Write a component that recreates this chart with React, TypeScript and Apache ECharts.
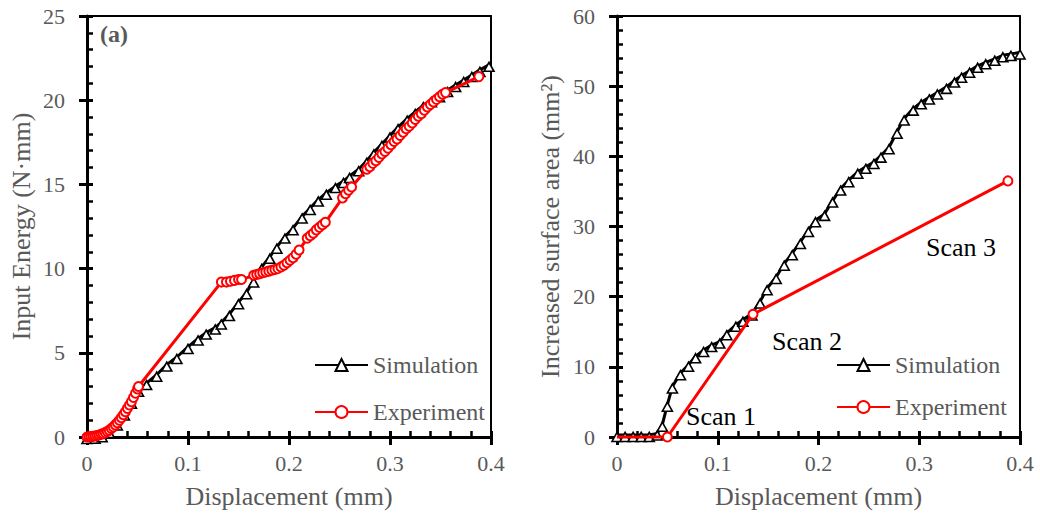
import React, { useEffect, useRef } from "react";
import * as echarts from "echarts";

const FONT = '"Liberation Serif", "Times New Roman", serif';
const GRAY = "#595959";

// ---- Data ----
const xTicks = [0, 0.1, 0.2, 0.3, 0.4];

const leftSimulation: [number, number][] = [
  [0, 0], [0.008, 0.02], [0.015, 0.1], [0.022, 0.35], [0.03, 0.8], [0.037, 1.4],
  [0.044, 2.1], [0.051, 2.8], [0.059, 3.2], [0.069, 3.7], [0.079, 4.3], [0.089, 4.75],
  [0.1, 5.35], [0.11, 5.85], [0.118, 6.2], [0.127, 6.5], [0.133, 6.8], [0.141, 7.3],
  [0.15, 8.0], [0.158, 8.6], [0.165, 9.3], [0.173, 10.1], [0.181, 10.7], [0.188, 11.3],
  [0.196, 11.9], [0.204, 12.4], [0.213, 13.1], [0.221, 13.6], [0.229, 14.1], [0.237, 14.5],
  [0.246, 14.9], [0.254, 15.2], [0.26, 15.5], [0.269, 15.9], [0.277, 16.4], [0.284, 16.9],
  [0.292, 17.4], [0.3, 17.9], [0.308, 18.4], [0.317, 18.9], [0.325, 19.3], [0.333, 19.7],
  [0.341, 20.0], [0.349, 20.3], [0.357, 20.6], [0.365, 20.9], [0.373, 21.2], [0.381, 21.5],
  [0.389, 21.8], [0.398, 22.1],
];

const leftExperiment: [number, number][] = [
  [0, 0], [0.002, 0.01], [0.004, 0.02], [0.006, 0.04], [0.008, 0.06], [0.01, 0.09],
  [0.012, 0.12], [0.014, 0.16], [0.016, 0.2], [0.018, 0.26], [0.02, 0.33], [0.022, 0.4],
  [0.024, 0.5], [0.026, 0.6], [0.028, 0.72], [0.03, 0.85], [0.032, 1.0], [0.034, 1.15],
  [0.036, 1.32], [0.038, 1.5], [0.04, 1.7], [0.042, 1.9], [0.044, 2.1], [0.046, 2.35],
  [0.048, 2.6], [0.05, 2.85], [0.051, 3.0],
  [0.133, 9.2], [0.138, 9.2], [0.142, 9.25], [0.146, 9.3], [0.15, 9.35], [0.153, 9.35],
  [0.165, 9.6], [0.168, 9.65], [0.171, 9.7], [0.174, 9.75], [0.177, 9.8], [0.18, 9.85],
  [0.183, 9.9], [0.186, 9.95], [0.189, 10.0], [0.192, 10.1], [0.195, 10.2], [0.198, 10.35],
  [0.201, 10.5], [0.204, 10.65], [0.207, 10.85], [0.21, 11.1],
  [0.218, 11.8], [0.221, 11.95], [0.224, 12.1], [0.227, 12.3], [0.23, 12.45], [0.233, 12.6],
  [0.236, 12.75],
  [0.253, 14.2], [0.256, 14.45], [0.259, 14.65], [0.262, 14.85],
  [0.277, 15.9], [0.28, 16.05], [0.283, 16.25], [0.286, 16.4], [0.289, 16.6], [0.292, 16.8],
  [0.295, 16.95], [0.298, 17.15], [0.301, 17.35], [0.304, 17.55], [0.307, 17.7], [0.31, 17.9],
  [0.313, 18.1], [0.316, 18.3], [0.319, 18.45], [0.322, 18.65], [0.325, 18.85], [0.328, 19.05],
  [0.331, 19.2], [0.334, 19.4], [0.337, 19.6], [0.34, 19.75], [0.343, 19.9], [0.346, 20.05],
  [0.349, 20.2], [0.352, 20.35], [0.355, 20.45],
  [0.388, 21.4],
];

const rightSimulation: [number, number][] = [
  [0, 0.3], [0.008, 0.3], [0.016, 0.3], [0.024, 0.3], [0.032, 0.3], [0.04, 0.5],
  [0.045, 1.75], [0.05, 4.6], [0.055, 7.2], [0.063, 9.1], [0.071, 10.3], [0.078, 11.5],
  [0.086, 12.4], [0.094, 13.1], [0.102, 13.6], [0.109, 14.8], [0.118, 16.0], [0.125, 16.7],
  [0.134, 17.6], [0.142, 19.3], [0.149, 21.2], [0.158, 22.8], [0.166, 24.7], [0.174, 26.2],
  [0.182, 27.8], [0.19, 29.5], [0.197, 30.9], [0.206, 31.8], [0.214, 33.7], [0.222, 35.4],
  [0.23, 36.6], [0.239, 37.8], [0.247, 38.5], [0.255, 39.2], [0.262, 40.1], [0.27, 41.3],
  [0.278, 43.5], [0.285, 45.4], [0.294, 46.8], [0.302, 47.7], [0.31, 48.4], [0.318, 49.1],
  [0.327, 49.9], [0.335, 50.8], [0.342, 51.5], [0.35, 52.2], [0.358, 52.9], [0.366, 53.4],
  [0.375, 53.9], [0.383, 54.4], [0.391, 54.6], [0.4, 54.8],
];

const rightExperiment: [number, number][] = [
  [0, 0], [0.05, 0], [0.135, 17.5], [0.388, 36.5],
];

const scanLabels = ["Scan 1", "Scan 2", "Scan 3"];
const seriesNames = ["Simulation", "Experiment"];

// ---- helpers ----
const axisFont = { fontFamily: FONT, color: GRAY };
const AX_PER_GRID = 3;

function xAxes(gridIndex: number) {
  const base = {
    type: "value" as const,
    gridIndex,
    min: xTicks[0],
    max: xTicks[xTicks.length - 1],
    interval: 0.1,
    splitLine: { show: false },
    minorSplitLine: { show: false },
  };
  return [
    {
      ...base,
      position: "bottom",
      axisLine: { show: true, onZero: false, lineStyle: { color: "#000", width: 3 } },
      axisTick: { show: true, inside: true, length: 6, lineStyle: { color: "#000", width: 3 } },
      minorTick: { show: true, splitNumber: 5, length: 6, lineStyle: { color: "#000", width: 2.5 } },
      axisLabel: { ...axisFont, fontSize: 22, margin: 15 },
      name: "Displacement (mm)",
      nameLocation: "middle",
      nameGap: 46,
      nameTextStyle: { ...axisFont, fontSize: 26 },
    },
    {
      ...base,
      position: "bottom",
      axisLine: { show: false, onZero: false },
      axisTick: { show: true, inside: false, length: 8, lineStyle: { color: "#000", width: 3 } },
      minorTick: { show: false },
      axisLabel: { show: false },
    },
    {
      ...base,
      position: "top",
      axisLine: { show: true, onZero: false, lineStyle: { color: "#000", width: 2 } },
      axisTick: { show: false },
      minorTick: { show: false },
      axisLabel: { show: false },
    },
  ];
}

function yAxes(gridIndex: number, max: number, interval: number, name: string, nameGap: number) {
  const base = {
    type: "value" as const,
    gridIndex,
    min: 0,
    max,
    interval,
    splitLine: { show: false },
    minorSplitLine: { show: false },
  };
  return [
    {
      ...base,
      position: "left",
      axisLine: { show: true, onZero: false, lineStyle: { color: "#000", width: 3 } },
      axisTick: { show: true, inside: true, length: 6, lineStyle: { color: "#000", width: 3 } },
      minorTick: { show: true, splitNumber: 5, length: 6, lineStyle: { color: "#000", width: 2.5 } },
      axisLabel: { ...axisFont, fontSize: 22, margin: 22 },
      name,
      nameLocation: "middle",
      nameGap,
      nameTextStyle: { ...axisFont, fontSize: 26 },
    },
    {
      ...base,
      position: "left",
      axisLine: { show: false, onZero: false },
      axisTick: { show: true, inside: false, length: 8, lineStyle: { color: "#000", width: 3 } },
      minorTick: { show: false },
      axisLabel: { show: false },
    },
    {
      ...base,
      position: "right",
      axisLine: { show: true, onZero: false, lineStyle: { color: "#000", width: 2 } },
      axisTick: { show: false },
      minorTick: { show: false },
      axisLabel: { show: false },
    },
  ];
}

function simSeries(data: [number, number][], idx: number) {
  return {
    name: seriesNames[0],
    type: "line",
    xAxisIndex: idx * AX_PER_GRID,
    yAxisIndex: idx * AX_PER_GRID,
    data,
    symbol: "triangle",
    symbolSize: [10, 9],
    symbolOffset: [0, 2],
    clip: false,
    lineStyle: { color: "#000", width: 3 },
    itemStyle: { color: "#fff", borderColor: "#000", borderWidth: 1.6 },
    z: 2,
  };
}

function expSeries(data: any[], idx: number) {
  return {
    name: seriesNames[1],
    type: "line",
    xAxisIndex: idx * AX_PER_GRID,
    yAxisIndex: idx * AX_PER_GRID,
    data,
    symbol: "circle",
    symbolSize: 9,
    clip: false,
    lineStyle: { color: "#ff0000", width: 3 },
    itemStyle: { color: "#fff", borderColor: "#ff0000", borderWidth: 2 },
    z: 3,
  };
}

function legendAt(left: number, top: number, gap: number) {
  return {
    orient: "vertical",
    left,
    top,
    itemWidth: 53,
    itemHeight: 15,
    itemGap: gap,
    padding: 0,
    data: seriesNames,
    selectedMode: false,
    textStyle: { fontFamily: FONT, fontSize: 24, color: GRAY, lineHeight: 24 },
  };
}

export default function App() {
  const ref = useRef<HTMLDivElement>(null);
  useEffect(() => {
    if (!ref.current) return;
    const chart = echarts.init(ref.current, null, { renderer: "svg" });
    const rightExpData = rightExperiment.map((p, i) =>
      i === 0 ? { value: p, symbol: "none" } : { value: p }
    );
    const scanPos = [
      { left: 686, top: 403 },
      { left: 772, top: 328 },
      { left: 926, top: 234 },
    ];
    chart.setOption({
      animation: false,
      grid: [
        { left: 87, top: 16, width: 404, height: 421 },
        { left: 617, top: 16, width: 403, height: 421 },
      ],
      xAxis: [...xAxes(0), ...xAxes(1)],
      yAxis: [
        ...yAxes(0, 25, 5, "Input Energy (N·mm)", 53),
        ...yAxes(1, 60, 10, "Increased surface area (mm²)", 54),
      ],
      legend: [legendAt(314, 353, 23), legendAt(836, 353, 18)],
      series: [
        simSeries(leftSimulation, 0),
        expSeries(leftExperiment, 0),
        simSeries(rightSimulation, 1),
        expSeries(rightExpData, 1),
      ],
      graphic: [
        {
          type: "text",
          left: 100,
          top: 22,
          style: { text: "(a)", font: `bold 24px ${FONT}`, fill: GRAY },
        },
        ...scanLabels.map((t, i) => ({
          type: "text",
          left: scanPos[i].left,
          top: scanPos[i].top,
          style: { text: t, font: `26px ${FONT}`, fill: "#000" },
        })),
      ],
    });
    return () => chart.dispose();
  }, []);
  return (
    <div
      ref={ref}
      style={{ position: "absolute", left: 0, top: 0, width: 1040, height: 515, background: "#fff" }}
    />
  );
}
